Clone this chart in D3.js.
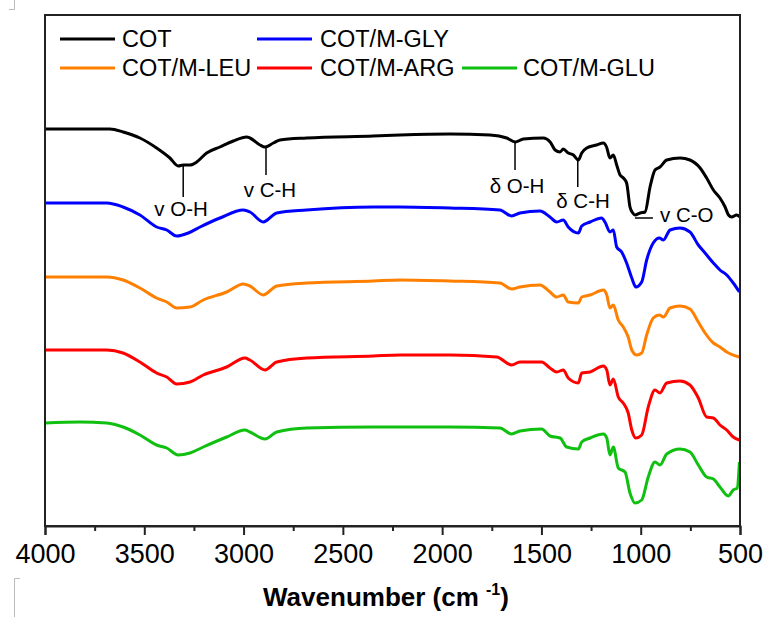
<!DOCTYPE html>
<html>
<head>
<meta charset="utf-8">
<script src="https://cdn.jsdelivr.net/npm/d3@7"></script>
<style>
  body { margin: 0; background: #fff; }
  svg { font-family: "Liberation Sans", Arial, sans-serif; }
</style>
</head>
<body>
<div id="chart"></div>
<script>
(function(){
  // spectra: [wavenumber (cm-1), transmittance (a.u., stacked)]
  const cot = [
    [4000,397],[3800,397],[3673,397],[3606,394],[3522,388],[3438,378],[3371,368],[3329,360],
    [3304,361],[3270,361],[3236,364],[3186,373],[3119,379],[3052,385],[2984,389],[2968,388],
    [2917,381],[2892,379],[2850,383],[2817,386],[2682,388],[2347,390],[2212,391],[1960,392],
    [1759,391],[1675,388],[1632,384],[1591,387],[1491,388],[1456,384],[1431,376],[1406,374],
    [1390,377],[1365,373],[1339,371],[1314,366],[1297,373],[1272,378],[1222,381],[1188,383],
    [1172,379],[1155,368],[1138,371],[1121,361],[1104,351],[1087,348],[1071,343],[1054,319],
    [1040,313],[1029,311],[1003,313],[978,314],[953,339],[928,356],[903,359],[869,366],
    [802,368],[752,366],[701,358],[668,348],[634,336],[601,328],[575,319],[558,311],
    [542,309],[517,311],[500,309]
  ];
  const cotGly = [
    [4000,323],[3800,323],[3689,323],[3607,319],[3522,311],[3438,299],[3387,296],[3337,290],
    [3278,293],[3219,299],[3119,308],[3001,316],[2968,314],[2901,304],[2833,313],[2682,316],
    [2347,319],[2212,319],[1960,318],[1709,316],[1650,310],[1608,313],[1507,315],[1457,309],
    [1423,304],[1390,306],[1365,299],[1314,293],[1297,300],[1255,304],[1197,308],[1180,304],
    [1155,294],[1138,296],[1121,279],[1096,274],[1071,263],[1045,248],[1024,239],[995,244],
    [970,266],[937,283],[906,288],[886,286],[852,296],[802,298],[752,294],[710,281],
    [676,273],[634,263],[601,256],[567,251],[534,243],[503,234]
  ];
  const cotLeu = [
    [4000,249],[3800,249],[3689,249],[3607,246],[3522,238],[3438,228],[3387,224],[3337,218],
    [3270,219],[3203,226],[3085,234],[3001,242],[2968,240],[2901,231],[2833,240],[2682,243],
    [2347,245],[2212,246],[1960,245],[1709,243],[1650,237],[1608,239],[1507,241],[1457,234],
    [1423,229],[1390,231],[1365,224],[1314,223],[1297,229],[1255,231],[1188,236],[1171,231],
    [1155,218],[1138,221],[1113,206],[1088,199],[1063,189],[1045,176],[1020,171],[995,173],
    [970,191],[937,208],[906,211],[886,209],[852,218],[802,220],[752,217],[710,204],
    [676,193],[634,183],[601,179],[567,174],[503,169]
  ];
  const cotArg = [
    [4000,176],[3800,176],[3689,176],[3607,173],[3522,164],[3438,153],[3387,149],[3337,142],
    [3270,144],[3203,151],[3085,159],[2993,168],[2968,166],[2892,156],[2833,164],[2682,168],
    [2347,170],[2212,171],[1960,171],[1725,169],[1650,161],[1608,164],[1499,164],[1457,158],
    [1423,154],[1390,156],[1365,148],[1314,143],[1297,153],[1255,154],[1188,160],[1171,156],
    [1155,141],[1138,147],[1113,129],[1088,123],[1063,113],[1045,96],[1025,88],[995,91],
    [962,119],[928,136],[903,133],[869,143],[802,145],[752,141],[710,128],[668,109],
    [634,108],[601,101],[567,96],[534,89],[503,86]
  ];
  const cotGlu = [
    [4000,103],[3824,104],[3689,103],[3607,99],[3522,91],[3438,81],[3387,78],[3329,71],
    [3270,73],[3203,79],[3085,89],[2993,96],[2968,94],[2892,87],[2833,94],[2682,98],
    [2347,99],[2212,99],[1960,99],[1709,98],[1650,92],[1608,95],[1499,97],[1457,90],
    [1406,88],[1373,79],[1314,77],[1297,84],[1255,88],[1188,92],[1171,88],[1155,71],
    [1138,79],[1113,58],[1079,54],[1054,33],[1029,23],[995,26],[962,49],[928,64],
    [903,61],[869,72],[802,77],[752,74],[710,61],[668,49],[634,47],[601,39],
    [559,30],[534,36],[514,38],[503,64]
  ];

  const seriesNames = ["COT", "COT/M-GLY", "COT/M-LEU", "COT/M-ARG", "COT/M-GLU"];
  const seriesData = [cot, cotGly, cotLeu, cotArg, cotGlu];
  const xTicks = [4000, 3500, 3000, 2500, 2000, 1500, 1000, 500];
  const xMinorTicks = [3750, 3250, 2750, 2250, 1750, 1250, 750];
  const peakLabels = ["v O-H", "v C-H", "δ O-H", "δ C-H", "v C-O"];
  const peakWavenumbers = [3304, 2887, 1633, 1317, 1029];

  const colors = ["#000000", "#0000ff", "#ff8000", "#ff0000", "#10c010"];

  const width = 769, height = 617;
  const margin = {left: 45, right: 29, top: 15, bottom: 91};

  const svg = d3.select("#chart").append("svg")
      .attr("width", width)
      .attr("height", height);

  const x = d3.scaleLinear().domain([4000, 500]).range([margin.left, width - margin.right]);
  const y = d3.scaleLinear().domain([0, 511]).range([height - margin.bottom, margin.top]);

  // faint crop marks in the corners
  const marks = svg.append("g").attr("stroke", "#bbb").attr("stroke-width", 1).attr("fill", "none");
  marks.append("path").attr("d", "M14.5,0 V9.5 H9");
  marks.append("path").attr("d", "M14.5,617 V578.5 H20");

  // spectra
  const line = d3.line()
      .x(d => x(d[0]))
      .y(d => y(d[1]))
      .curve(d3.curveMonotoneX);

  svg.append("g")
    .selectAll("path")
    .data(seriesData)
    .enter().append("path")
      .attr("d", d => line(d.slice().sort((a, b) => b[0] - a[0])))
      .attr("fill", "none")
      .attr("stroke", (d, i) => colors[i])
      .attr("stroke-width", 3)
      .attr("stroke-linejoin", "round");

  // frame
  svg.append("rect")
      .attr("x", x(4000))
      .attr("y", y(511))
      .attr("width", x(500) - x(4000))
      .attr("height", y(0) - y(511))
      .attr("fill", "none")
      .attr("stroke", "#222")
      .attr("stroke-width", 2);

  // x axis
  const xAxis = svg.append("g")
      .attr("transform", `translate(0,${y(0)})`)
      .call(d3.axisBottom(x).tickValues(xTicks).tickSize(9).tickPadding(9).tickFormat(d3.format("d")));
  xAxis.select(".domain").attr("stroke", "#222").attr("stroke-width", 2);
  xAxis.selectAll(".tick line").attr("stroke", "#222").attr("stroke-width", 2);
  xAxis.selectAll(".tick text")
      .attr("font-family", "'Liberation Sans', Arial, sans-serif")
      .attr("font-size", 27)
      .attr("fill", "#000");

  svg.append("g")
      .attr("transform", `translate(0,${y(0)})`)
      .call(d3.axisBottom(x).tickValues(xMinorTicks).tickSize(5).tickFormat(""))
      .call(g => g.select(".domain").remove())
      .selectAll(".tick line").attr("stroke", "#222").attr("stroke-width", 2);

  const title = svg.append("text")
      .attr("x", 386)
      .attr("y", 606)
      .attr("text-anchor", "middle")
      .attr("font-size", 26)
      .attr("font-weight", "bold")
      .attr("fill", "#000");
  title.append("tspan").text("Wavenumber (cm ");
  title.append("tspan").attr("font-size", 16).attr("dy", -11).text("-1");
  title.append("tspan").attr("dy", 11).text(")");

  // peak annotations
  const ann = svg.append("g").attr("font-size", 20.5).attr("fill", "#000");
  const vertical = [
    {i: 0, y1: 166, y2: 197, tx: 181, ty: 216},
    {i: 1, y1: 147, y2: 175, tx: 270, ty: 197},
    {i: 2, y1: 141, y2: 170, tx: 517, ty: 193},
    {i: 3, y1: 160, y2: 187, tx: 583, ty: 208}
  ];
  vertical.forEach(v => {
    const px = x(peakWavenumbers[v.i]);
    ann.append("line")
        .attr("x1", px).attr("x2", px)
        .attr("y1", v.y1).attr("y2", v.y2)
        .attr("stroke", "#000").attr("stroke-width", 1.5);
    ann.append("text")
        .attr("x", v.tx).attr("y", v.ty)
        .attr("text-anchor", "middle")
        .text(peakLabels[v.i]);
  });
  const coX = x(peakWavenumbers[4]);
  ann.append("line")
      .attr("x1", coX).attr("x2", coX + 18)
      .attr("y1", 218).attr("y2", 218)
      .attr("stroke", "#000").attr("stroke-width", 1.5);
  ann.append("text")
      .attr("x", coX + 25).attr("y", 222)
      .text(peakLabels[4]);

  // legend
  const legendPos = [
    {lx: 60, tx: 122, y: 39},
    {lx: 257, tx: 320, y: 39},
    {lx: 60, tx: 122, y: 68},
    {lx: 257, tx: 320, y: 68},
    {lx: 462, tx: 523, y: 68}
  ];
  const legend = svg.append("g").attr("font-size", 23.5);
  seriesNames.forEach((name, i) => {
    const p = legendPos[i];
    legend.append("line")
        .attr("x1", p.lx).attr("x2", p.lx + 55)
        .attr("y1", p.y).attr("y2", p.y)
        .attr("stroke", colors[i]).attr("stroke-width", 3);
    legend.append("text")
        .attr("x", p.tx).attr("y", p.y)
        .attr("dy", "0.35em")
        .attr("fill", "#000")
        .text(name);
  });
})();
</script>
</body>
</html>
